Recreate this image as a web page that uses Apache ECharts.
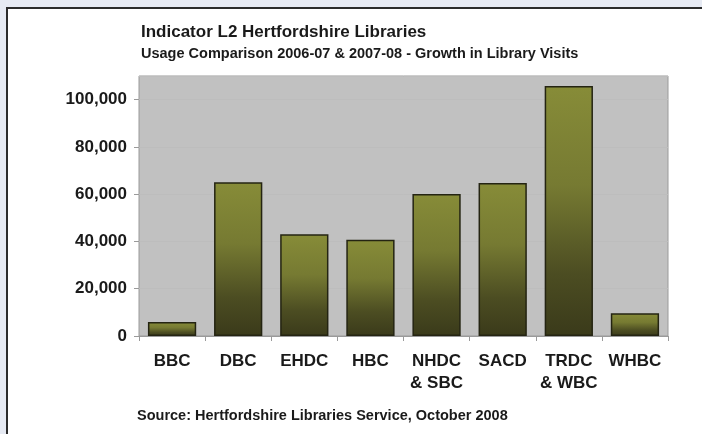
<!DOCTYPE html>
<html><head><meta charset="utf-8">
<script src="https://cdn.jsdelivr.net/npm/echarts@6/dist/echarts.min.js"></script>
<style>html,body{margin:0;padding:0;background:#e6eaf3;}#c{width:702px;height:434px;}</style>
</head><body><div id="c"></div>
<script>
const categories = ['BBC','DBC','EHDC','HBC','NHDC\n& SBC','SACD','TRDC\n& WBC','WHBC'];
const visits = [5900, 65100, 43100, 40700, 60100, 64700, 105800, 9600];
const yTicks = [0, 20000, 40000, 60000, 80000, 100000];
const titleText = 'Indicator L2 Hertfordshire Libraries';
const subtitleText = 'Usage Comparison 2006-07 & 2007-08 - Growth in Library Visits';
const sourceText = 'Source: Hertfordshire Libraries Service, October 2008';

const chart = echarts.init(document.getElementById('c'));
const F = 'Liberation Sans, Arial, sans-serif';
chart.setOption({
  backgroundColor: '#e6eaf3',
  animation: false,
  graphic: [
    {type:'rect', shape:{x:7,y:8,width:720,height:450}, style:{fill:'#ffffff', stroke:'#2b2b2b', lineWidth:2}, z:-10},
    {type:'text', left:141, top:24, style:{text:titleText, font:'bold 17px '+F, fill:'#1a1a1a'}},
    {type:'text', left:141, top:46, style:{text:subtitleText, font:'bold 14.5px '+F, fill:'#1a1a1a'}},
    {type:'text', left:137, top:408, style:{text:sourceText, font:'bold 14.5px '+F, fill:'#1a1a1a'}}
  ],
  grid: {left:139, right:34, top:76, bottom:98, show:true, backgroundColor:'#c1c1c1', borderColor:'#9a9a9a', borderWidth:1},
  xAxis: {
    type:'category', data:categories,
    axisLine:{show:true, lineStyle:{color:'#9a9a9a'}},
    axisTick:{show:true, interval:0, length:5, lineStyle:{color:'#9a9a9a'}},
    axisLabel:{interval:0, color:'#1a1a1a', fontFamily:F, fontWeight:'bold', fontSize:17, lineHeight:22, margin:14}
  },
  yAxis: {
    type:'value', min:0, max:110000, interval:20000,
    axisLine:{show:false},
    axisTick:{show:true, length:5, lineStyle:{color:'#9a9a9a'}},
    splitLine:{show:true, lineStyle:{color:'#bdbdbd'}},
    axisLabel:{color:'#1a1a1a', fontFamily:F, fontWeight:'bold', fontSize:17, margin:12, showMaxLabel:false,
      formatter: v => yTicks.includes(v) ? v.toLocaleString('en-US') : ''}
  },
  series: [{
    type:'bar', data:visits, barCategoryGap:'27%',
    itemStyle:{
      borderColor:'#242412', borderWidth:1.5,
      color:{type:'linear', x:0,y:0,x2:0,y2:1, colorStops:[
        {offset:0,color:'#878c38'},{offset:0.4,color:'#767a32'},{offset:0.75,color:'#4c4d22'},{offset:1,color:'#3a3a1a'}]}
    }
  }]
});
</script></body></html>
